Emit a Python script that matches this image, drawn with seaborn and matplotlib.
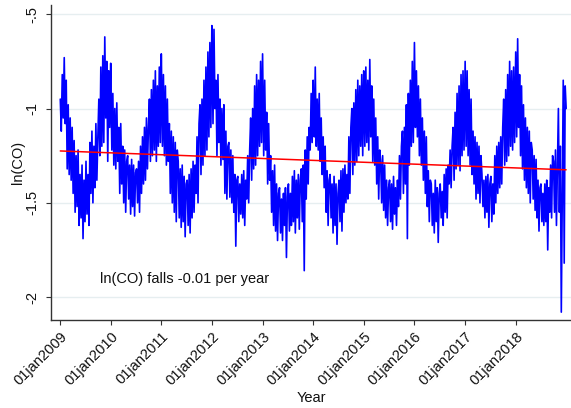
import matplotlib
matplotlib.use("Agg")
import matplotlib.pyplot as plt
import numpy as np
import pandas as pd
import seaborn as sns

# Weekly readings of ln(CO), one list per calendar year
co_2009 = [-0.95, -1.12, -0.82, -1.05, -0.73, -1.08, -0.85, -1.32, -0.98, -1.35, -1.05, -1.38, -1.10,
           -1.45, -1.17, -1.55, -1.25, -1.52, -1.22, -1.62, -1.35, -1.58, -1.30, -1.69, -1.38, -1.60,
           -1.28, -1.56, -1.35, -1.62, -1.18, -1.45, -1.12, -1.50, -1.20, -1.42, -1.08, -1.38, -1.15,
           -0.95, -1.25, -0.78, -1.20, -0.72, -1.18, -0.62, -1.05, -0.75, -1.28, -0.80, -1.10, -0.76]
co_2010 = [-0.85, -1.22, -0.92, -1.30, -1.00, -1.32, -0.97, -1.28, -1.10, -1.45, -1.08, -1.40, -1.20,
           -1.50, -1.22, -1.55, -1.28, -1.25, -1.48, -1.30, -1.56, -1.27, -1.52, -1.30, -1.57, -1.34,
           -1.32, -1.50, -1.28, -1.55, -1.20, -1.45, -1.15, -1.40, -1.10, -1.38, -1.05, -1.32, -1.10,
           -0.95, -1.28, -0.90, -1.25, -0.85, -1.22, -0.80, -1.28, -0.88, -1.20, -0.78, -1.18, -0.71]
co_2011 = [-0.75, -1.20, -0.82, -1.25, -0.88, -1.30, -0.95, -1.28, -1.08, -1.45, -1.12, -1.50, -1.15,
           -1.55, -1.18, -1.60, -1.22, -1.28, -1.58, -1.32, -1.63, -1.30, -1.60, -1.36, -1.68, -1.40,
           -1.38, -1.62, -1.35, -1.66, -1.32, -1.58, -1.28, -1.55, -1.30, -1.45, -1.15, -1.50, -1.08,
           -0.98, -1.35, -0.95, -1.30, -0.85, -1.25, -0.78, -1.22, -0.70, -1.15, -0.65, -1.10, -0.56]
co_2012 = [-0.60, -1.08, -0.58, -1.00, -0.85, -1.25, -0.82, -1.18, -0.95, -1.30, -1.00, -1.27, -0.98,
           -1.45, -1.12, -1.48, -1.20, -1.18, -1.47, -1.22, -1.50, -1.25, -1.55, -1.35, -1.73, -1.38,
           -1.36, -1.60, -1.40, -1.56, -1.35, -1.58, -1.33, -1.62, -1.38, -1.48, -1.25, -1.50, -1.22,
           -1.05, -1.38, -1.00, -1.32, -0.88, -1.30, -0.82, -1.25, -0.85, -1.20, -0.75, -1.18, -0.71]
co_2013 = [-0.78, -1.25, -0.85, -1.22, -1.02, -1.40, -1.08, -1.38, -1.25, -1.55, -1.33, -1.62, -1.30,
           -1.65, -1.40, -1.70, -1.45, -1.42, -1.66, -1.48, -1.70, -1.45, -1.62, -1.42, -1.79, -1.47,
           -1.40, -1.65, -1.45, -1.62, -1.36, -1.60, -1.33, -1.66, -1.38, -1.58, -1.35, -1.64, -1.38,
           -1.32, -1.60, -1.30, -1.86, -1.22, -1.48, -1.15, -1.40, -1.10, -1.22, -0.92, -1.18, -0.85]
co_2014 = [-0.90, -1.15, -0.78, -1.20, -0.95, -1.22, -0.92, -1.28, -1.05, -1.35, -1.15, -1.42, -1.20,
           -1.55, -1.33, -1.62, -1.38, -1.35, -1.58, -1.40, -1.66, -1.36, -1.62, -1.40, -1.72, -1.45,
           -1.38, -1.60, -1.33, -1.65, -1.32, -1.55, -1.30, -1.50, -1.35, -1.48, -1.15, -1.45, -1.10,
           -1.00, -1.35, -0.97, -1.30, -0.90, -1.28, -0.85, -1.25, -0.88, -1.20, -0.82, -1.25, -0.80]
co_2015 = [-0.82, -1.20, -0.78, -1.18, -0.85, -1.22, -0.74, -1.15, -0.88, -1.28, -0.95, -1.30, -1.05,
           -1.40, -1.15, -1.48, -1.22, -1.28, -1.50, -1.25, -1.54, -1.30, -1.58, -1.38, -1.62, -1.42,
           -1.38, -1.60, -1.40, -1.64, -1.36, -1.56, -1.42, -1.62, -1.38, -1.52, -1.25, -1.48, -1.20,
           -1.12, -1.45, -1.10, -1.40, -0.98, -1.69, -0.92, -1.30, -0.85, -1.20, -0.75, -1.18, -0.72]
co_2016 = [-0.65, -1.10, -0.80, -1.15, -0.88, -1.25, -0.95, -1.30, -1.05, -1.38, -1.12, -1.45, -1.15,
           -1.52, -1.33, -1.60, -1.38, -1.40, -1.62, -1.45, -1.66, -1.38, -1.60, -1.42, -1.71, -1.45,
           -1.40, -1.58, -1.44, -1.62, -1.35, -1.55, -1.32, -1.58, -1.30, -1.40, -1.22, -1.42, -1.20,
           -1.10, -1.38, -1.02, -1.32, -0.92, -1.30, -0.88, -1.33, -0.82, -1.25, -0.80, -1.22, -0.78]
co_2017 = [-0.75, -1.20, -0.80, -1.25, -0.90, -1.30, -0.95, -1.35, -1.12, -1.40, -1.15, -1.48, -1.18,
           -1.45, -1.20, -1.50, -1.25, -1.35, -1.52, -1.38, -1.58, -1.36, -1.55, -1.35, -1.63, -1.40,
           -1.36, -1.60, -1.40, -1.56, -1.25, -1.50, -1.20, -1.45, -1.18, -1.42, -1.15, -1.40, -1.10,
           -0.95, -1.30, -0.90, -1.28, -0.82, -1.25, -0.75, -1.20, -0.80, -1.22, -0.78, -1.18, -0.74]
co_2018 = [-0.70, -1.15, -0.63, -1.10, -0.82, -1.25, -0.88, -1.32, -0.98, -1.38, -1.05, -1.42, -1.10,
           -1.45, -1.12, -1.50, -1.18, -1.22, -1.48, -1.25, -1.54, -1.27, -1.58, -1.38, -1.65, -1.42,
           -1.40, -1.60, -1.45, -1.62, -1.40, -1.60, -1.38, -1.75, -1.42, -1.55, -1.30, -1.58, -1.25,
           -1.28, -1.55, -1.22, -1.62, -1.30, -1.00, -1.55, -1.20, -2.08, -1.45, -0.85, -1.82, -0.88,
           -1.00]

years = [2009, 2010, 2011, 2012, 2013, 2014, 2015, 2016, 2017, 2018]
series_by_year = [co_2009, co_2010, co_2011, co_2012, co_2013,
                  co_2014, co_2015, co_2016, co_2017, co_2018]

# Fitted linear trend: level at the first date and change per year
trend_start_level = -1.225
trend_slope = -0.01

tick_years = years
tick_labels = [f"01jan{y}" for y in tick_years]
y_ticks = [-2.0, -1.5, -1.0, -0.5]
y_tick_labels = ["-2", "-1.5", "-1", "-.5"]

# ---- assemble the series ----
frames = []
for yr, vals in zip(years, series_by_year):
    dates = pd.date_range(f"{yr}-01-01", f"{yr}-12-31", periods=len(vals))
    frames.append(pd.DataFrame({"date": dates, "ln_co": vals}))
df = pd.concat(frames, ignore_index=True)

t0 = pd.Timestamp("2009-01-01")
t1 = pd.Timestamp("2018-12-31")
trend_dates = pd.to_datetime([t0, t1])
elapsed = np.array([(d - t0).days / 365.25 for d in trend_dates])
trend = pd.DataFrame({"date": trend_dates,
                      "fit": trend_start_level + trend_slope * elapsed})

# ---- figure ----
sns.set_theme(style="white")
plt.rcParams["font.family"] = ["Liberation Sans", "DejaVu Sans"]
fs = 10.5
W, H = 571, 408
fig = plt.figure(figsize=(W / 100, H / 100), dpi=100)
ax = fig.add_axes([51 / W, 1 - 320 / H, 1 - 51 / W, (320 - 5) / H])

ax.yaxis.grid(True, color="#e6eef0", lw=1.0)
ax.xaxis.grid(False)
ax.set_axisbelow(True)

sns.lineplot(data=df, x="date", y="ln_co", color="#0000ff", lw=1.2,
             estimator=None, ax=ax)
sns.lineplot(data=trend, x="date", y="fit", color="#ff0000", lw=1.1,
             estimator=None, ax=ax)

ax.set_xlim(pd.Timestamp("2008-10-26"), pd.Timestamp("2019-02-04"))
ax.set_ylim(-2.1218, -0.4507)

ax.set_xticks([pd.Timestamp(f"{y}-01-01") for y in tick_years])
ax.set_xticklabels(tick_labels, rotation=45, ha="right",
                   rotation_mode="anchor", fontsize=fs, color="#111111")
ax.set_yticks(y_ticks)
ax.set_yticklabels(y_tick_labels, rotation=90, va="center",
                   fontsize=fs, color="#111111")
ax.tick_params(axis="both", which="major", bottom=True, left=True,
               length=3.6, width=0.8, color="#333333", direction="out")
ax.tick_params(axis="y", pad=5)
ax.tick_params(axis="x", pad=3)

for side in ["top", "right"]:
    ax.spines[side].set_visible(False)
for side in ["left", "bottom"]:
    ax.spines[side].set_color("#333333")
    ax.spines[side].set_linewidth(1.0)

ax.set_ylabel("ln(CO)", fontsize=fs, color="#111111")
ax.set_xlabel("Year", fontsize=fs, color="#111111")
ax.yaxis.set_label_coords(-0.05, 0.5)
ax.xaxis.set_label_coords(0.5, -0.225)
ax.xaxis.label.set_va("top")

ax.text(pd.Timestamp("2009-10-14"), -1.905,
        f"ln(CO) falls {trend_slope:.2f} per year",
        fontsize=fs, va="center", ha="left", color="#111111")

fig.savefig("out.png", dpi=100)
